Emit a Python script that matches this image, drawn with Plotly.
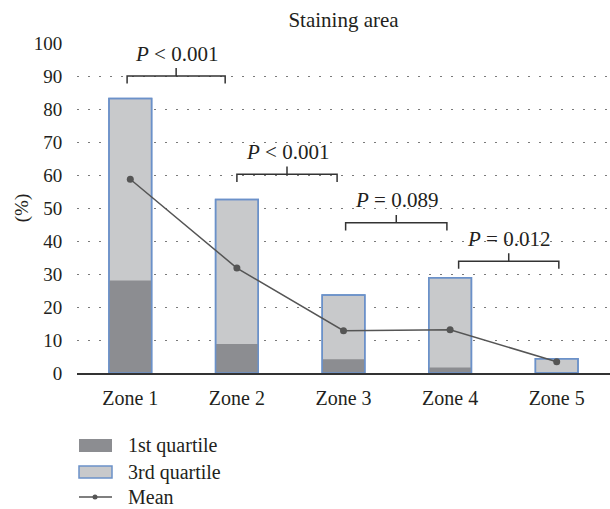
import plotly.graph_objects as go

# ---- data ----
zones = ["Zone 1", "Zone 2", "Zone 3", "Zone 4", "Zone 5"]
q1_values = [28.0, 8.8, 4.2, 1.7, 0.0]
q3_values = [83.2, 52.6, 23.6, 28.9, 4.3]
mean_values = [58.7, 31.8, 12.8, 13.1, 3.4]

bracket_left = [-0.03, 1.0, 2.02, 3.08]
bracket_right = [0.89, 1.94, 2.97, 4.02]
bracket_y = [90.0, 60.2, 45.5, 33.9]
p_labels = ["<i>P</i> &lt; 0.001", "<i>P</i> &lt; 0.001", "<i>P</i> = 0.089", "<i>P</i> = 0.012"]

y_ticks = [0, 10, 20, 30, 40, 50, 60, 70, 80, 90, 100]

# ---- style ----
FONT = "Liberation Serif"
TXT = "#231f20"
DARK = "#8c8d91"
LIGHT = "#c8c9cb"
BLUE = "#6b91c9"
LINEC = "#555555"

W, H = 610, 509
L, R, T, B = 77, 0, 43, 136

xpos = list(range(len(zones)))

fig = go.Figure()
fig.add_trace(go.Bar(x=xpos, y=q3_values, width=0.4, marker=dict(color=LIGHT, line=dict(color=BLUE, width=1.5)),
                     name="3rd quartile", showlegend=False))
fig.add_trace(go.Bar(x=xpos, y=q1_values, width=0.4, marker=dict(color=DARK, line=dict(width=0)),
                     name="1st quartile", showlegend=False))
fig.add_trace(go.Bar(x=xpos, y=q3_values, width=0.4,
                     marker=dict(color="rgba(0,0,0,0)", line=dict(color=BLUE, width=1.5)),
                     showlegend=False, hoverinfo="skip"))
fig.add_trace(go.Scatter(x=xpos, y=mean_values, mode="lines+markers",
                         line=dict(color=LINEC, width=1.5), marker=dict(color=LINEC, size=7),
                         name="Mean", showlegend=False))

# brackets
for xl, xr, yb, lab in zip(bracket_left, bracket_right, bracket_y, p_labels):
    xm = (xl + xr) / 2
    path = (f"M {xl},{yb-2.3} L {xl},{yb} L {xr},{yb} L {xr},{yb-2.3} "
            f"M {xm},{yb} L {xm},{yb+2.4}")
    fig.add_shape(type="path", path=path, xref="x", yref="y",
                  line=dict(color="#333333", width=1.5))
    fig.add_annotation(x=xm, y=yb + 6.8, xref="x", yref="y", text=lab, showarrow=False,
                       font=dict(family=FONT, size=21, color=TXT), xanchor="center", yanchor="middle")

# manual legend (pixel positions converted to paper coords)
def px(xp):
    return (xp - L) / (W - L - R)

def py(yp):
    return (H - B - yp) / (H - B - T)

legend_items = [("1st quartile", "rect_dark", 445.5), ("3rd quartile", "rect_light", 472), ("Mean", "line", 497)]
for label, kind, yc in legend_items:
    if kind == "rect_dark":
        fig.add_shape(type="rect", xref="paper", yref="paper", x0=px(79), x1=px(112), y0=py(yc - 6.5), y1=py(yc + 6.5),
                      fillcolor=DARK, line=dict(width=0))
    elif kind == "rect_light":
        fig.add_shape(type="rect", xref="paper", yref="paper", x0=px(79), x1=px(112), y0=py(yc - 6), y1=py(yc + 6),
                      fillcolor=LIGHT, line=dict(color=BLUE, width=1.5))
    else:
        fig.add_shape(type="line", xref="paper", yref="paper", x0=px(79), x1=px(112), y0=py(yc), y1=py(yc),
                      line=dict(color=LINEC, width=1.5))
        fig.add_shape(type="circle", xref="paper", yref="paper", x0=px(92.5), x1=px(97.5), y0=py(yc - 2.5), y1=py(yc + 2.5),
                      fillcolor=LINEC, line=dict(width=0))
    fig.add_annotation(x=px(126), y=py(yc), xref="paper", yref="paper", text=label, showarrow=False,
                       xanchor="left", yanchor="middle", font=dict(family=FONT, size=20, color=TXT))

fig.update_layout(
    width=W, height=H,
    margin=dict(l=L, r=R, t=T, b=B, pad=0),
    barmode="overlay",
    plot_bgcolor="white", paper_bgcolor="white",
    showlegend=False,
    font=dict(family=FONT, size=18, color=TXT),
    title=dict(text="Staining area", x=0.5, xref="paper", xanchor="center",
               y=1 - 20 / H, yref="container", yanchor="middle",
               font=dict(family=FONT, size=21, color=TXT)),
    xaxis=dict(range=[-0.5, 4.5], tickvals=xpos, ticktext=zones, showgrid=False, zeroline=False,
               showline=True, linecolor="#333333", linewidth=1.5, ticks="outside", ticklen=6,
               tickcolor="rgba(0,0,0,0)", tickfont=dict(family=FONT, size=20, color=TXT), fixedrange=True),
    yaxis=dict(range=[0, 100], tickvals=y_ticks, showgrid=True, gridcolor="#7a7a7a", gridwidth=1,
               griddash="1.5px,9.5px", zeroline=False, showline=False, ticks="outside", ticklen=10,
               tickcolor="rgba(0,0,0,0)", tickfont=dict(family=FONT, size=19, color=TXT),
               title=dict(text="(%)", standoff=0, font=dict(family=FONT, size=19, color=TXT)), fixedrange=True),
)

fig.write_html("out.html", config={"displayModeBar": False},
               post_script="document.body.style.margin='0';document.body.style.padding='0';")
